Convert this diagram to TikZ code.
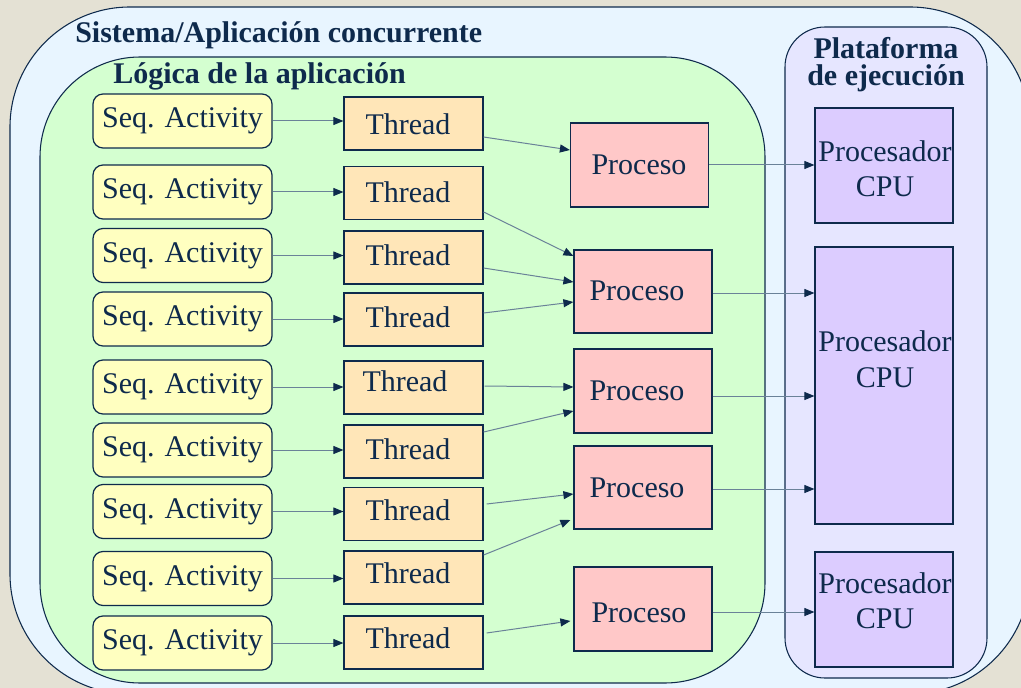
\documentclass[tikz,border=0pt]{standalone}
\usepackage{fontspec}
\setmainfont{Liberation Serif}
\usetikzlibrary{arrows.meta,calc}
\definecolor{bgc}{HTML}{E4E1D4}
\definecolor{navy}{HTML}{0E2A4C}
\definecolor{linec}{HTML}{6A8298}
\definecolor{outerc}{HTML}{E8F5FF}
\definecolor{greenc}{HTML}{D4FFD0}
\definecolor{platc}{HTML}{E6E6FF}
\definecolor{cpuc}{HTML}{DCCCFF}
\definecolor{procc}{HTML}{FFC8C8}
\definecolor{thrc}{HTML}{FFE6B8}
\definecolor{seqc}{HTML}{FFFFC0}
\begin{document}
\begin{tikzpicture}[x=0.75pt,y=-0.75pt,
  txt/.style={font=\fontsize{22.5}{27}\selectfont, text=navy, inner sep=0pt},
  btxt/.style={font=\fontsize{22.5}{27}\selectfont\bfseries, text=navy, inner sep=0pt},
  container/.style={draw=navy, line width=0.8pt, inner sep=0pt},
  seqbox/.style={txt, draw=navy, line width=0.9pt, fill=seqc, rounded corners=7.5pt, minimum width=134.25pt, minimum height=40.5pt},
  thrbox/.style={draw=navy, line width=0.9pt, fill=thrc, minimum width=104.25pt, minimum height=39.75pt, inner sep=0pt},
  procbox/.style={draw=navy, line width=0.9pt, fill=procc, minimum width=103.5pt, minimum height=63pt, inner sep=0pt},
  cpubox/.style={draw=navy, line width=0.9pt, fill=cpuc, minimum width=103.5pt, inner sep=0pt},
  conn/.style={draw=linec, line width=0.75pt, -{Triangle[length=7.5pt,width=6pt,color=navy]}}
]
\useasboundingbox (0,0) rectangle (1021,688);
\clip (0,0) rectangle (1021,688);
\fill[bgc] (0,0) rectangle (1021,688);

% containers
\node[container, fill=outerc, rounded corners=90pt, minimum width=765pt, minimum height=515.25pt] (sys) at (520,350.5) {};
\node[container, fill=greenc, rounded corners=75pt, minimum width=543.75pt, minimum height=469.5pt] (logic) at (402.5,370) {};
\node[container, fill=platc, rounded corners=30pt, minimum width=151.5pt, minimum height=488.25pt] (plat) at (886,352.5) {};

% titles
\node[btxt, anchor=base west] (systitle) at (75,43) {Sistema/Aplicación concurrente};
\node[btxt, anchor=base west] (logictitle) at (113,84) {Lógica de la aplicación};
\node[btxt, anchor=base] (plattitle1) at (886,58.5) {Plataforma};
\node[btxt, anchor=base] (plattitle2) at (886,86) {de ejecución};

% seq activities and threads
\foreach \i/\sy/\ty/\tx/\tb in {1/121/123.5/408/135, 2/192/193/408/203, 3/255.5/257.5/408/265,
  4/319/319.5/408/327, 5/387/387.5/405/391, 6/450/451.5/408/459, 7/511.5/514/408/520,
  8/578.5/577.5/408/583, 9/643/642.5/408/648}{
  \node[seqbox] (s\i) at (182.5,\sy) {Seq. Activity};
  \node[thrbox] (t\i) at (413.5,\ty) {};
  \node[txt, anchor=base] (tl\i) at (\tx,\tb) {Thread};
  \draw[conn] (s\i.east) -- (s\i.east -| t\i.west);
}

% procesos
\node[procbox] (p1) at (639.5,165) {};
\node[procbox, minimum height=62.25pt] (p2) at (643,291.5) {};
\node[procbox] (p3) at (643,391) {};
\node[procbox, minimum height=62.25pt] (p4) at (643,487.5) {};
\node[procbox] (p5) at (643,609) {};
\node[txt, anchor=base] (pl1) at (639,175) {Proceso};
\node[txt, anchor=base] (pl2) at (637,300) {Proceso};
\node[txt, anchor=base] (pl3) at (637,400) {Proceso};
\node[txt, anchor=base] (pl4) at (637,497) {Proceso};
\node[txt, anchor=base] (pl5) at (639,622) {Proceso};

% CPUs
\node[cpubox, minimum height=86.25pt] (c1) at (884,165.5) {};
\node[cpubox, minimum height=207.75pt] (c2) at (884,385.5) {};
\node[cpubox, minimum height=86.25pt] (c3) at (884,609.5) {};
\node[txt, anchor=base] (cl1a) at (885,162) {Procesador};
\node[txt, anchor=base] (cl1b) at (885,197) {CPU};
\node[txt, anchor=base] (cl2a) at (885,351) {Procesador};
\node[txt, anchor=base] (cl2b) at (885,387) {CPU};
\node[txt, anchor=base] (cl3a) at (885,593) {Procesador};
\node[txt, anchor=base] (cl3b) at (885,628) {CPU};

% thread -> proceso
\draw[conn] ($(t1.east)+(0,13.5)$) -- ($(p1.west)+(0,-15)$);
\draw[conn] ($(t2.east)+(0,19)$) -- ($(p2.west)+(0,-35.5)$);
\draw[conn] ($(t3.east)+(0,10.5)$) -- ($(p2.west)+(0,-9.5)$);
\draw[conn] ($(t4.east)+(0,-6.5)$) -- ($(p2.west)+(0,10.5)$);
\draw[conn] ($(t5.east)+(1,-1.5)$) -- ($(p3.west)+(0,-4)$);
\draw[conn] ($(t6.east)+(0,-19.5)$) -- ($(p3.west)+(0,20)$);
\draw[conn] ($(t7.east)+(3,-10)$) -- ($(p4.west)+(0,6.5)$);
\draw[conn] ($(t8.east)+(0,-22.5)$) -- ($(p4.west)+(-3,32.5)$);
\draw[conn] ($(t9.east)+(3,-9.5)$) -- ($(p5.west)+(-3,12)$);

% proceso -> cpu
\draw[conn] (p1.east) -- (p1.east -| c1.west);
\draw[conn] ($(p2.east)+(0,1.5)$) -- ($(p2.east -| c2.west)+(0,1.5)$);
\draw[conn] ($(p3.east)+(0,5)$) -- ($(p3.east -| c2.west)+(0,5)$);
\draw[conn] ($(p4.east)+(0,1.5)$) -- ($(p4.east -| c2.west)+(0,1.5)$);
\draw[conn] ($(p5.east)+(0,3)$) -- ($(p5.east -| c3.west)+(0,3)$);
\end{tikzpicture}
\end{document}
